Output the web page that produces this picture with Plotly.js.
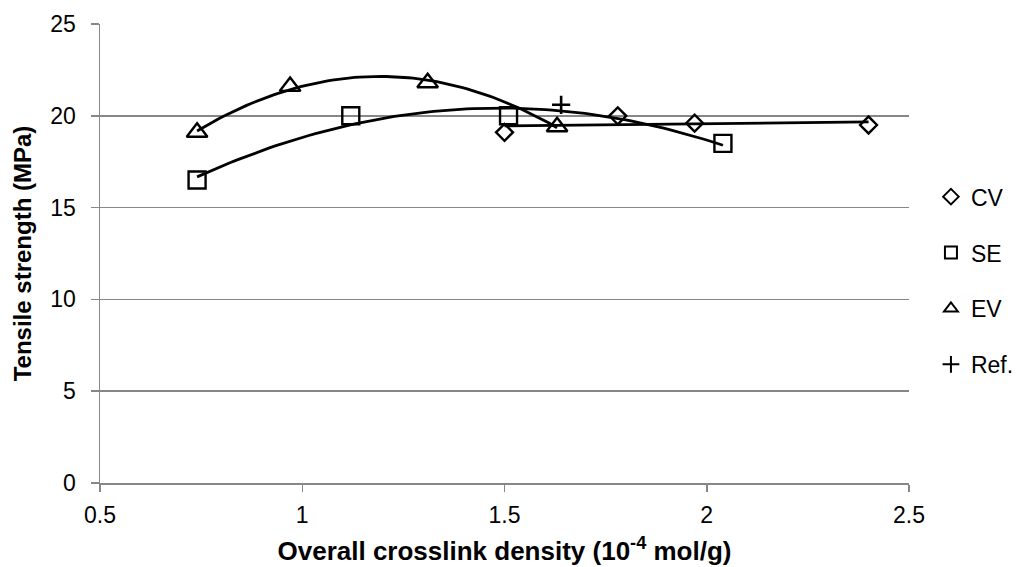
<!DOCTYPE html>
<html>
<head>
<meta charset="utf-8">
<script src="https://cdn.plot.ly/plotly-3.0.1.min.js"></script>
<style>
  html, body { margin: 0; padding: 0; background: #fff; }
  #chart { width: 1021px; height: 567px; }
</style>
</head>
<body>
<div id="chart"></div>
<script>
// Tensile strength vs. overall crosslink density for the three cure systems
const cvX = [1.50, 1.78, 1.97, 2.40];
const cvY = [19.1, 20.0, 19.6, 19.5];

const seX = [0.74, 1.12, 1.51, 2.04];
const seY = [16.5, 20.0, 20.0, 18.5];

const evX = [0.74, 0.97, 1.31, 1.63];
const evY = [19.1, 21.6, 21.8, 19.4];

const refX = [1.64];
const refY = [20.6];

const seriesNames = ['CV', 'SE', 'EV', 'Ref.'];
const xTicks = [0.5, 1, 1.5, 2, 2.5];
const yTicks = [0, 5, 10, 15, 20, 25];

// Least-squares polynomial fit (normal equations, Gaussian elimination)
function polyfit(xs, ys, deg) {
  const n = deg + 1;
  const A = [];
  for (let i = 0; i < n; i++) {
    A.push(new Array(n + 1).fill(0));
    for (let j = 0; j < n; j++) {
      A[i][j] = xs.reduce((s, x) => s + Math.pow(x, i + j), 0);
    }
    A[i][n] = xs.reduce((s, x, k) => s + ys[k] * Math.pow(x, i), 0);
  }
  for (let c = 0; c < n; c++) {
    let p = c;
    for (let r = c + 1; r < n; r++) if (Math.abs(A[r][c]) > Math.abs(A[p][c])) p = r;
    [A[c], A[p]] = [A[p], A[c]];
    for (let r = 0; r < n; r++) {
      if (r === c) continue;
      const f = A[r][c] / A[c][c];
      for (let k = c; k <= n; k++) A[r][k] -= f * A[c][k];
    }
  }
  return A.map((row, i) => row[n] / row[i]);
}

// Trendline sampled across the range of its own series
function trend(xs, ys, deg) {
  const coef = polyfit(xs, ys, deg);
  const lo = Math.min(...xs), hi = Math.max(...xs);
  const tx = [], ty = [];
  const steps = 80;
  for (let i = 0; i <= steps; i++) {
    const x = lo + (hi - lo) * i / steps;
    tx.push(x);
    ty.push(coef.reduce((s, c, k) => s + c * Math.pow(x, k), 0));
  }
  return { x: tx, y: ty };
}

const lineStyle = { color: '#000', width: 2.8 };
const cvT = trend(cvX, cvY, 1);
const seT = trend(seX, seY, 2);
const evT = trend(evX, evY, 2);

const traces = [
  { x: cvT.x, y: cvT.y, mode: 'lines', line: lineStyle, showlegend: false, hoverinfo: 'skip' },
  { x: seT.x, y: seT.y, mode: 'lines', line: lineStyle, showlegend: false, hoverinfo: 'skip' },
  { x: evT.x, y: evT.y, mode: 'lines', line: lineStyle, showlegend: false, hoverinfo: 'skip' },
  {
    x: cvX, y: cvY, name: seriesNames[0], mode: 'markers', legendgroup: 'a',
    marker: { symbol: 'diamond-open', size: 13, color: '#000', line: { color: '#000', width: 2.4 } }
  },
  {
    x: seX, y: seY, name: seriesNames[1], mode: 'markers', legendgroup: 'b',
    marker: { symbol: 'square-open', size: 17, color: '#000', line: { color: '#000', width: 2.4 } }
  },
  {
    x: evX, y: evY, name: seriesNames[2], mode: 'markers', legendgroup: 'c',
    marker: { symbol: 'triangle-up-open', size: 18, color: '#000', line: { color: '#000', width: 2.4 } }
  },
  {
    x: refX, y: refY, name: seriesNames[3], mode: 'markers', legendgroup: 'd',
    marker: { symbol: 'cross-thin-open', size: 13, color: '#000', line: { color: '#000', width: 2.6 } }
  }
];

const fontFamily = '"Liberation Sans", Arial, sans-serif';

const layout = {
  width: 1021,
  height: 567,
  margin: { l: 100, r: 112, t: 24, b: 84 },
  paper_bgcolor: '#fff',
  plot_bgcolor: '#fff',
  font: { family: fontFamily, size: 23, color: '#000' },
  showlegend: true,
  legend: {
    xref: 'container', yref: 'container',
    x: 0.9118, xanchor: 'left',
    y: 0.691, yanchor: 'top',
    font: { family: fontFamily, size: 23, color: '#000' },
    itemsizing: 'constant',
    itemwidth: 30,
    traceorder: 'grouped',
    tracegroupgap: 23,
    bgcolor: 'rgba(0,0,0,0)'
  },
  xaxis: {
    range: [0.5, 2.5],
    tickvals: xTicks,
    ticktext: xTicks.map(String),
    showgrid: false,
    zeroline: false,
    showline: true,
    linecolor: '#878787',
    linewidth: 1.5,
    ticks: 'outside',
    ticklen: 7,
    tickwidth: 1.5,
    tickcolor: '#878787',
    ticklabelstandoff: 4,
    tickfont: { size: 23, color: '#000' },
    title: {
      text: 'Overall crosslink density (10<sup>-4</sup> mol/g)',
      font: { size: 26, color: '#000', weight: 'bold' },
      standoff: 14
    },
    automargin: false
  },
  yaxis: {
    range: [0, 25],
    tickvals: yTicks,
    ticktext: yTicks.map(String),
    showgrid: true,
    gridcolor: '#878787',
    gridwidth: 1.5,
    zeroline: false,
    showline: true,
    linecolor: '#878787',
    linewidth: 1.5,
    ticks: 'outside',
    ticklen: 8,
    tickwidth: 1.5,
    tickcolor: '#878787',
    ticklabelstandoff: 10,
    tickfont: { size: 23, color: '#000' },
    title: {
      text: 'Tensile strength (MPa)',
      font: { size: 24, color: '#000', weight: 'bold' },
      standoff: 12
    },
    automargin: false
  }
};

Plotly.newPlot('chart', traces, layout, { staticPlot: true, displayModeBar: false });
</script>
</body>
</html>
